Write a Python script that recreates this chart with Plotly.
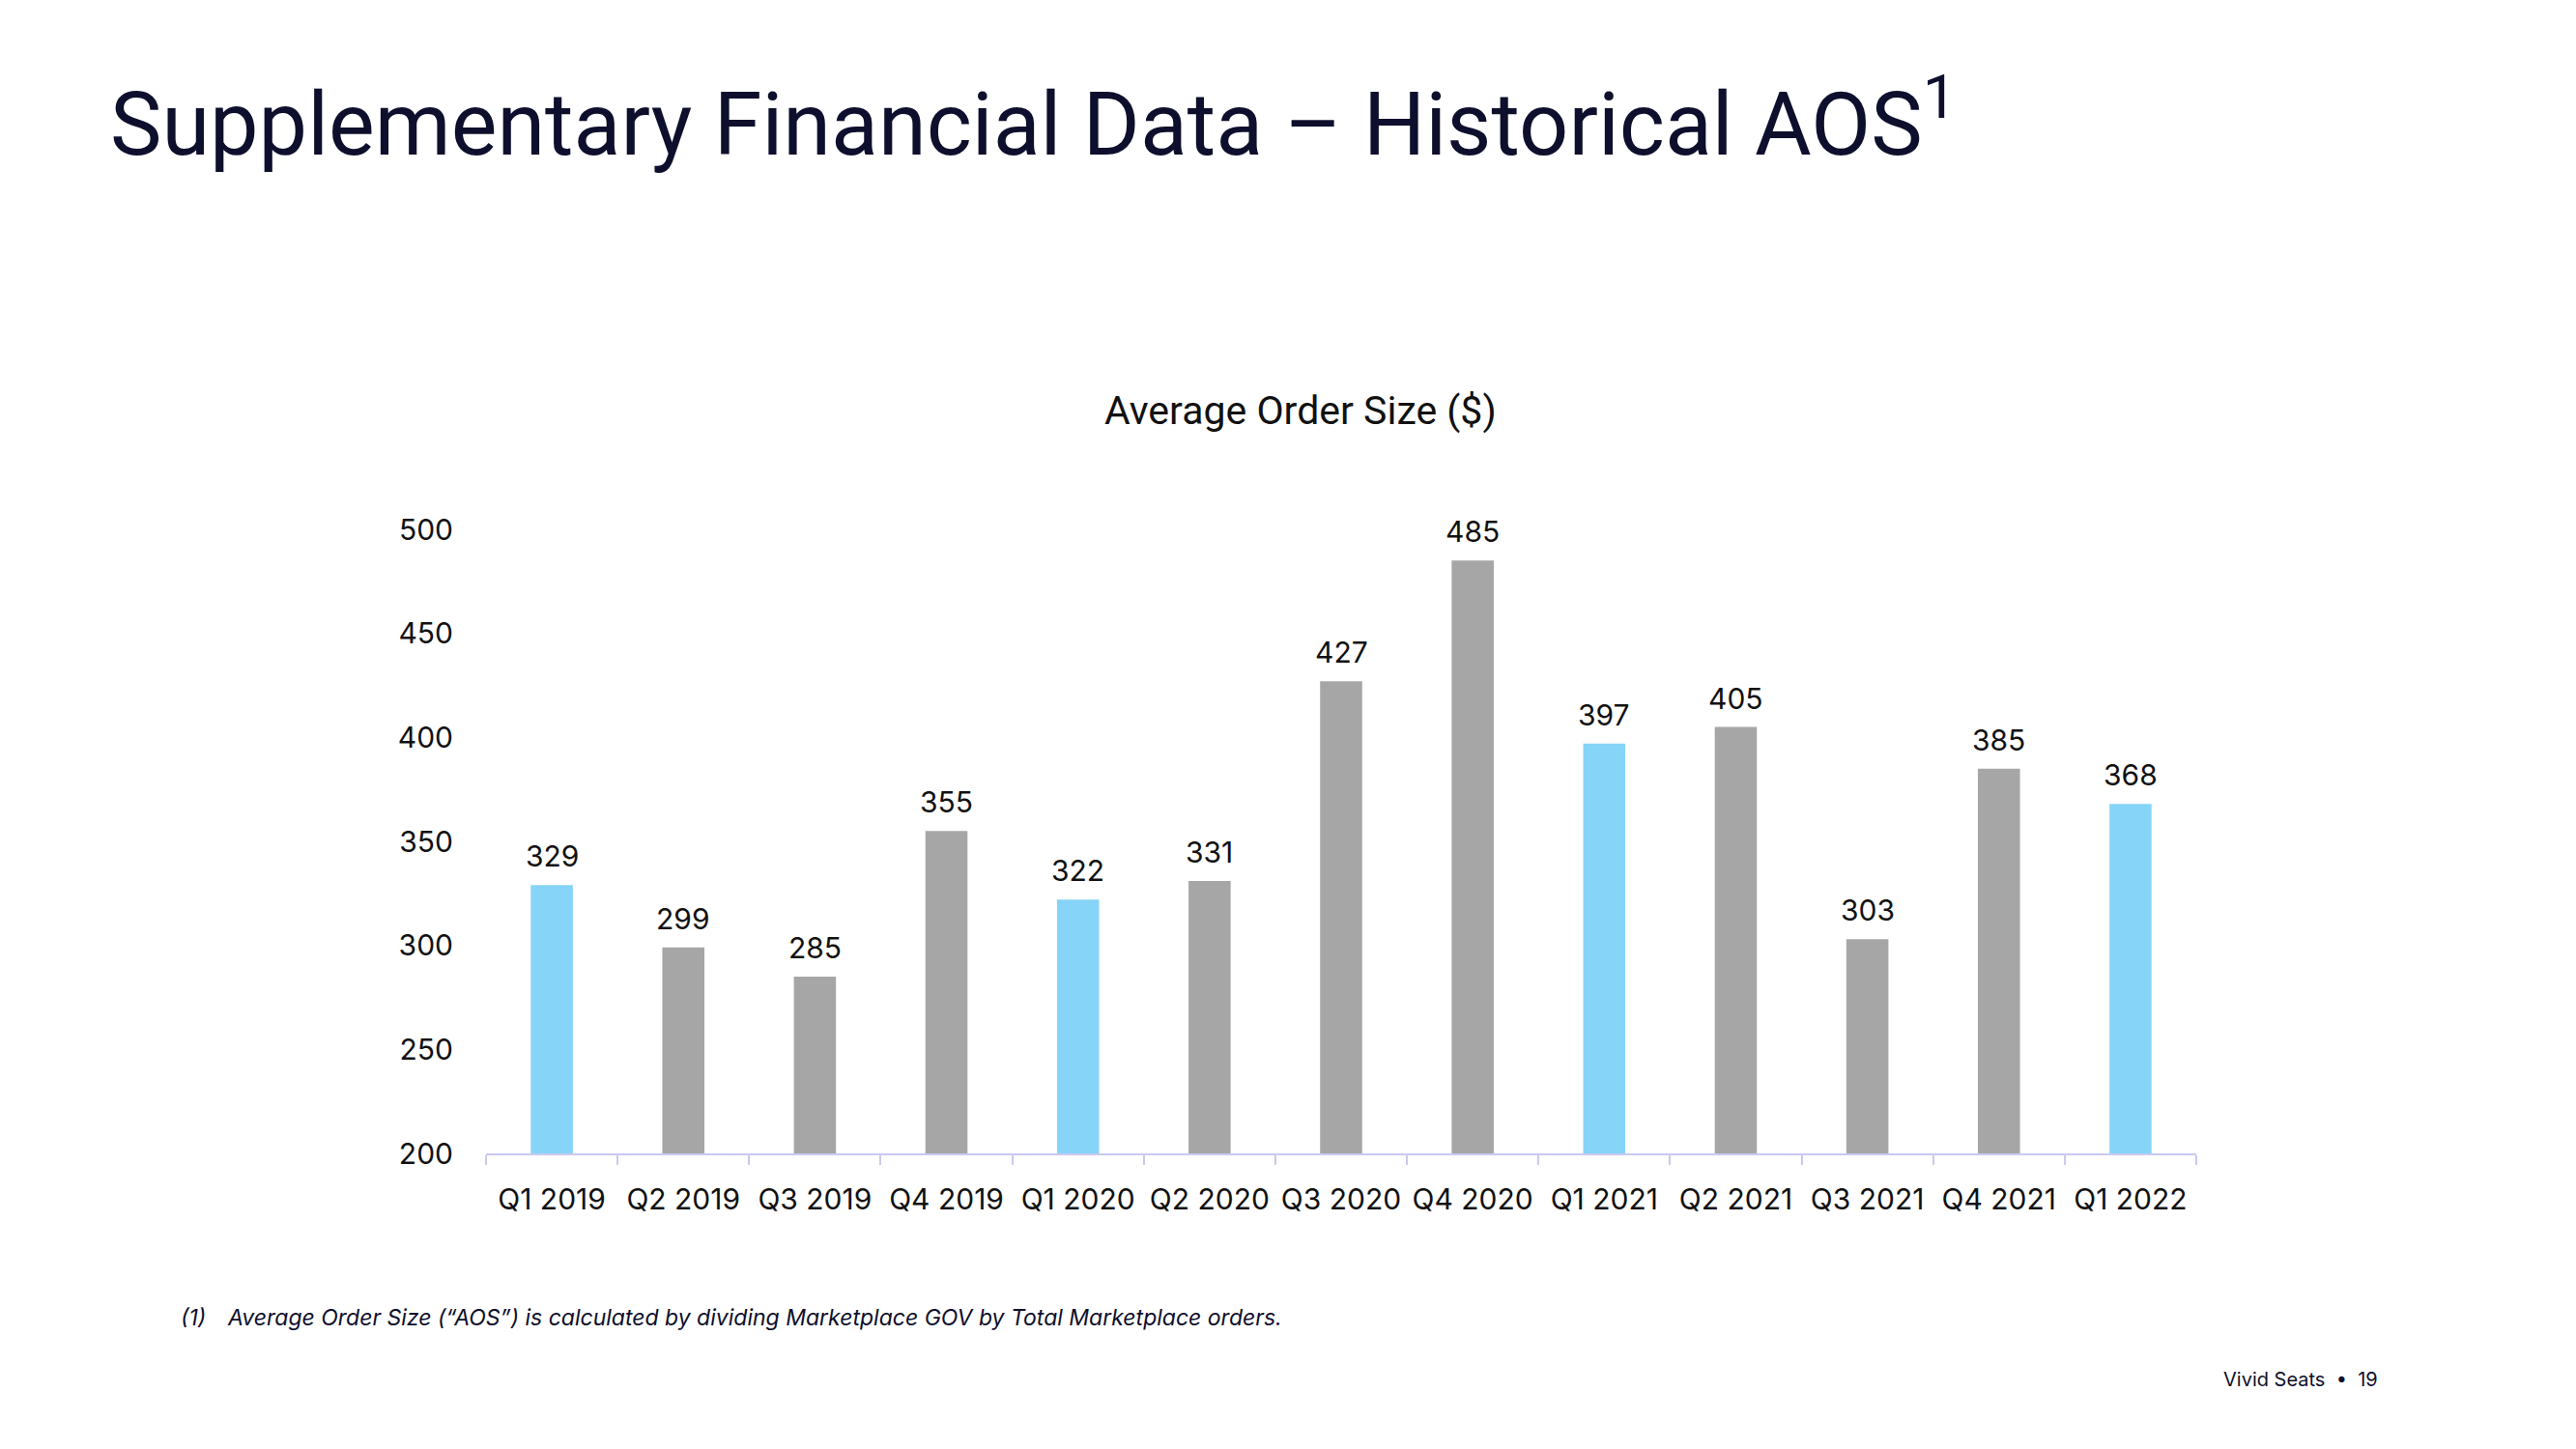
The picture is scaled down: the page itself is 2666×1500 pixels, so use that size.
import plotly.graph_objects as go

quarters = ["Q1 2019", "Q2 2019", "Q3 2019", "Q4 2019", "Q1 2020", "Q2 2020", "Q3 2020",
            "Q4 2020", "Q1 2021", "Q2 2021", "Q3 2021", "Q4 2021", "Q1 2022"]
aos = [329, 299, 285, 355, 322, 331, 427, 485, 397, 405, 303, 385, 368]
highlight = [True, False, False, False, True, False, False, False, True, False, False, False, True]
y_ticks = [200, 250, 300, 350, 400, 450, 500]

BLUE = "#86D4F7"
GREY = "#A6A6A6"
NAVY = "#0E0F2C"
TXT = "#111111"

W, H = 2666, 1500
L, R, T, B = 503, 2273, 548, 1194  # plot area in pixels


def px(x):
    return (x - L) / (R - L)


def py(y):
    return (B - y) / (B - T)


fig = go.Figure()
fig.add_trace(go.Bar(
    x=quarters, y=aos,
    marker=dict(color=[BLUE if h else GREY for h in highlight], line=dict(width=0)),
    hoverinfo="x+y",
))

annotations = []
for q, v in zip(quarters, aos):
    annotations.append(dict(x=q, y=v, xref="x", yref="y", text=str(v), showarrow=False,
                            yanchor="bottom", yshift=10,
                            font=dict(family="Inter", size=30, color=TXT)))

annotations += [
    dict(x=px(112), y=py(123), xref="paper", yref="paper",
         text="Supplementary Financial Data – Historical AOS<sup>1</sup>",
         showarrow=False, xanchor="left", yanchor="middle",
         font=dict(family="Roboto", size=90, color=NAVY)),
    dict(x=px(1346), y=py(425), xref="paper", yref="paper", text="Average Order Size ($)",
         showarrow=False, xanchor="center", yanchor="middle",
         font=dict(family="Roboto", size=41, color=TXT)),
    dict(x=px(185), y=py(1364), xref="paper", yref="paper", text="<i>(1)</i>",
         showarrow=False, xanchor="left", yanchor="middle",
         font=dict(family="Inter", size=23, color=NAVY)),
    dict(x=px(233), y=py(1364), xref="paper", yref="paper",
         text="<i>Average Order Size (“AOS”) is calculated by dividing Marketplace GOV by Total Marketplace orders.</i>",
         showarrow=False, xanchor="left", yanchor="middle",
         font=dict(family="Inter", size=23, color=NAVY)),
    dict(x=px(2463), y=py(1428), xref="paper", yref="paper", text="Vivid Seats  •  19",
         showarrow=False, xanchor="right", yanchor="middle",
         font=dict(family="Inter", size=20, color=NAVY)),
]

fig.update_layout(
    width=W, height=H, autosize=False,
    margin=dict(l=L, r=W - R, t=T, b=H - B, pad=0),
    paper_bgcolor="white", plot_bgcolor="white",
    bargap=0.68,
    showlegend=False,
    annotations=annotations,
    xaxis=dict(
        type="category", showgrid=False, showline=True, linecolor="#C9CAF0", linewidth=2,
        ticks="outside", tickson="boundaries", ticklen=10, tickcolor="#C9CAF0", tickwidth=2,
        tickfont=dict(family="Inter", size=30, color=TXT), ticklabelstandoff=20,
        zeroline=False,
    ),
    yaxis=dict(
        range=[200, 500], tickvals=y_ticks, showgrid=False, showline=False, zeroline=False,
        ticks="", tickfont=dict(family="Inter", size=30, color=TXT), ticklabelstandoff=33,
    ),
)

fig.write_html("out.html", config={"displayModeBar": False},
               post_script="document.body.style.margin='0px';")
